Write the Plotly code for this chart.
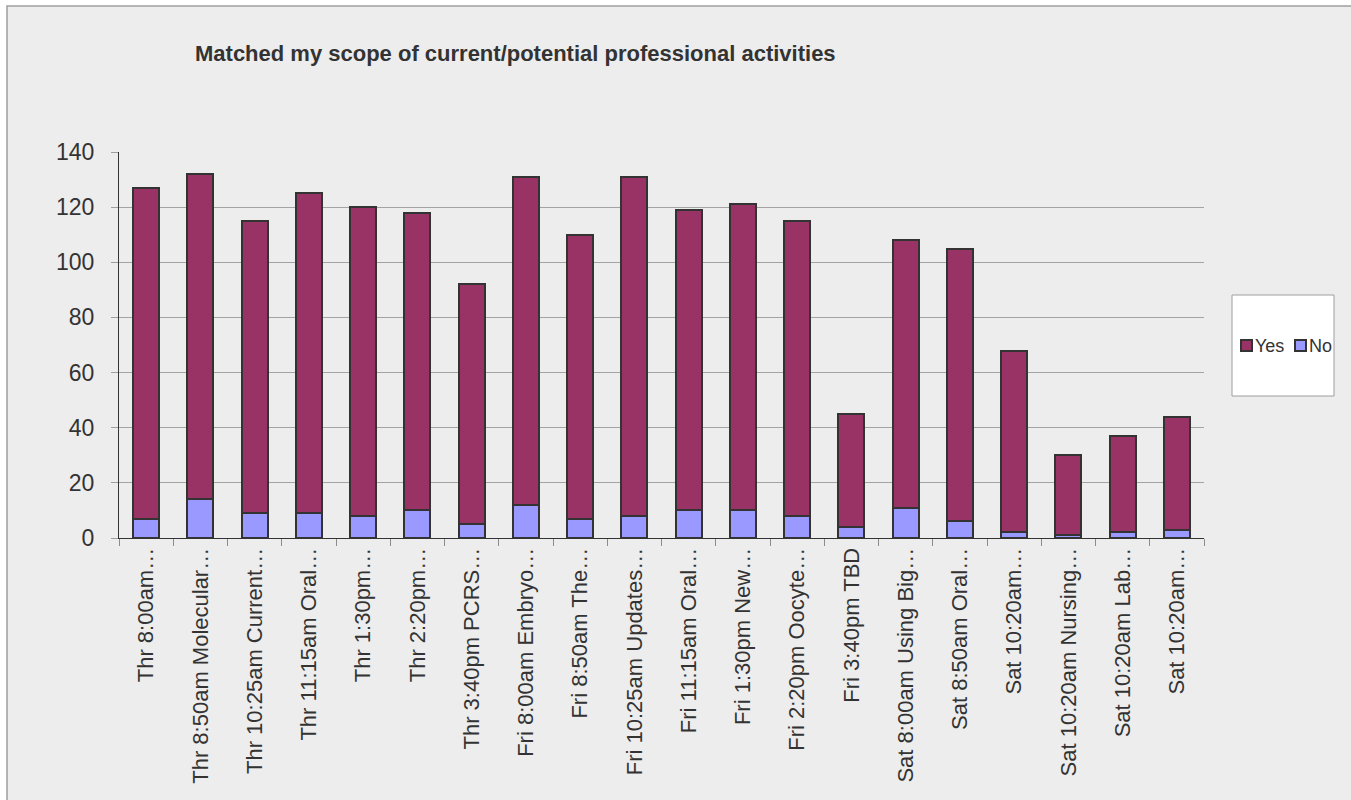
import plotly.graph_objects as go

# Session labels (as shown, truncated) and response counts
sessions = [
    "Thr 8:00am…", "Thr 8:50am Molecular…", "Thr 10:25am Current…", "Thr 11:15am Oral…",
    "Thr 1:30pm…", "Thr 2:20pm…", "Thr 3:40pm PCRS…", "Fri 8:00am Embryo…",
    "Fri 8:50am The…", "Fri 10:25am Updates…", "Fri 11:15am Oral…", "Fri 1:30pm New…",
    "Fri 2:20pm Oocyte…", "Fri 3:40pm TBD", "Sat 8:00am Using Big…", "Sat 8:50am Oral…",
    "Sat 10:20am…", "Sat 10:20am Nursing…", "Sat 10:20am Lab…", "Sat 10:20am…",
]
yes_counts = [120, 118, 106, 116, 112, 108, 87, 119, 103, 123,
              109, 111, 107, 41, 97, 99, 66, 29, 35, 41]
no_counts = [7, 14, 9, 9, 8, 10, 5, 12, 7, 8,
             10, 10, 8, 4, 11, 6, 2, 1, 2, 3]
y_ticks = [0, 20, 40, 60, 80, 100, 120, 140]

title_text = "Matched my scope of current/potential professional activities"
series_names = ["Yes", "No"]
yes_color = "#993366"
no_color = "#9999FF"
edge_color = "#333333"
text_color = "#333333"

W, H = 1351, 800
ML, MR, MT, MB = 119, 147, 152, 262
PW, PH = W - ML - MR, H - MT - MB


def px_x(px):
    return (px - ML) / PW


def px_y(py):
    return (H - MB - py) / PH


pos = list(range(len(sessions)))
fig = go.Figure()
fig.add_trace(go.Bar(x=pos, y=no_counts, name=series_names[1], width=0.476,
                     marker=dict(color=no_color, line=dict(color=edge_color, width=2)),
                     showlegend=False))
fig.add_trace(go.Bar(x=pos, y=yes_counts, name=series_names[0], width=0.476,
                     marker=dict(color=yes_color, line=dict(color=edge_color, width=2)),
                     showlegend=False))

shapes = [
    # chart area background with its frame
    dict(type="rect", xref="paper", yref="paper", layer="below",
         x0=px_x(7), x1=px_x(W + 20), y0=px_y(H + 20), y1=px_y(6),
         fillcolor="#EDEDED", line=dict(color="#9E9E9E", width=1.5)),
    # legend box
    dict(type="rect", xref="paper", yref="paper",
         x0=px_x(1232), x1=px_x(1334), y0=px_y(396), y1=px_y(295),
         fillcolor="white", line=dict(color="#9E9E9E", width=1)),
    # legend swatches
    dict(type="rect", xref="paper", yref="paper",
         x0=px_x(1241), x1=px_x(1252), y0=px_y(351), y1=px_y(340),
         fillcolor=yes_color, line=dict(color=edge_color, width=2)),
    dict(type="rect", xref="paper", yref="paper",
         x0=px_x(1295), x1=px_x(1306), y0=px_y(351), y1=px_y(340),
         fillcolor=no_color, line=dict(color=edge_color, width=2)),
]

annotations = [
    dict(text=series_names[0], xref="paper", yref="paper", x=px_x(1253), y=px_y(346),
         xanchor="left", yanchor="middle", showarrow=False,
         font=dict(family="Liberation Sans, Arial, sans-serif", size=18, color=text_color)),
    dict(text=series_names[1], xref="paper", yref="paper", x=px_x(1307), y=px_y(346),
         xanchor="left", yanchor="middle", showarrow=False,
         font=dict(family="Liberation Sans, Arial, sans-serif", size=18, color=text_color)),
]

fig.update_layout(
    width=W, height=H, autosize=False,
    margin=dict(l=ML, r=MR, t=MT, b=MB, pad=0),
    paper_bgcolor="white",
    plot_bgcolor="rgba(0,0,0,0)",
    barmode="stack",
    font=dict(family="Liberation Sans, Arial, sans-serif", color=text_color),
    title=dict(text=title_text, xref="paper", x=px_x(195), xanchor="left",
               yref="container", y=1 - 53 / H, yanchor="middle",
               font=dict(size=22, color=text_color, weight="bold")),
    shapes=shapes,
    annotations=annotations,
    xaxis=dict(
        range=[-0.5, len(sessions) - 0.5],
        tickmode="array", tickvals=pos, ticktext=sessions,
        tickangle=-90, ticks="", showgrid=False, zeroline=False,
        showline=True, linecolor=edge_color, linewidth=1,
        tickfont=dict(size=22, color=text_color),
        minor=dict(tickmode="linear", tick0=-0.5, dtick=1, ticks="outside",
                   ticklen=7, tickcolor="#8C8C8C", tickwidth=1, showgrid=False),
    ),
    yaxis=dict(
        range=[0, 140], tickmode="array", tickvals=y_ticks,
        ticks="outside", ticklen=7, tickcolor="#9E9E9E",
        showgrid=True, gridcolor="#A3A3A3", gridwidth=1,
        zeroline=False, showline=True, linecolor=edge_color, linewidth=1,
        tickfont=dict(size=23, color=text_color),
        ticklabelstandoff=12,
    ),
)

fig.write_html("out.html")
